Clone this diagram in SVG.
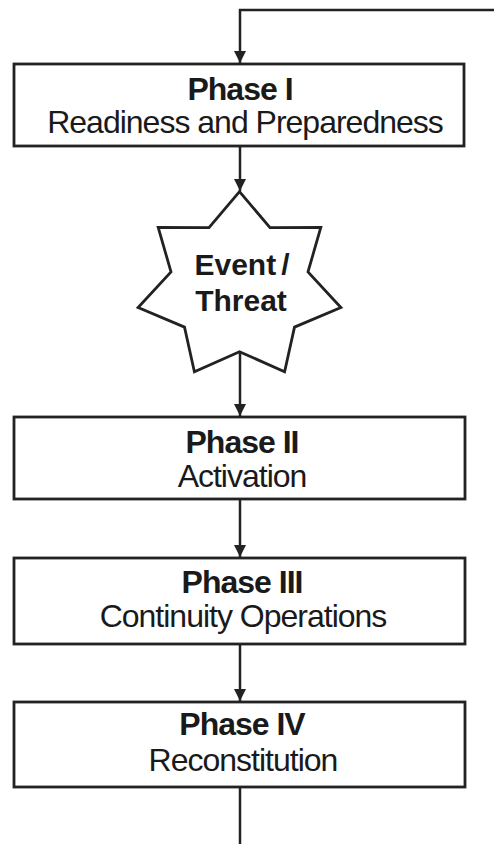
<svg xmlns="http://www.w3.org/2000/svg" width="494" height="844" viewBox="0 0 494 844">
  <style>
    .box { fill: #ffffff; stroke: #222222; stroke-width: 2.8; }
    .conn { fill: none; stroke: #222222; stroke-width: 2.5; }
    .title { font-family: "Liberation Sans", Arial, sans-serif; font-size: 32px; font-weight: bold; fill: #1a1a1a; text-anchor: middle; letter-spacing: -1px; }
    .sub { font-family: "Liberation Sans", Arial, sans-serif; font-size: 32px; fill: #1a1a1a; text-anchor: middle; letter-spacing: -1px; }
    .star { font-family: "Liberation Sans", Arial, sans-serif; font-size: 30px; font-weight: bold; fill: #1a1a1a; text-anchor: middle; }
  </style>
  <defs>
    <marker id="arrow" viewBox="0 0 12 12" refX="12" refY="6" markerWidth="12" markerHeight="12" markerUnits="userSpaceOnUse" orient="auto">
      <path d="M0,0 L12,6 L0,12 z" fill="#222222"/>
    </marker>
  </defs>
  <rect width="494" height="844" fill="#ffffff"/>

  <g id="connectors">
    <polyline class="conn" points="496,10 240,10 240,63" marker-end="url(#arrow)"/>
    <line class="conn" x1="240" y1="146" x2="240" y2="191" marker-end="url(#arrow)"/>
    <line class="conn" x1="240" y1="352" x2="240" y2="416" marker-end="url(#arrow)"/>
    <line class="conn" x1="240" y1="499" x2="240" y2="557" marker-end="url(#arrow)"/>
    <line class="conn" x1="240" y1="644" x2="240" y2="701" marker-end="url(#arrow)"/>
    <line class="conn" x1="240" y1="787" x2="240" y2="846"/>
  </g>

  <g id="phase1">
    <rect class="box" x="14" y="64" width="450" height="82"/>
    <text class="title" x="240" y="100">Phase I</text>
    <text class="sub" x="245" y="133">Readiness and Preparedness</text>
  </g>

  <g id="event">
    <polygon class="box" points="239.5,191.7 270,227.6 320.8,227.4 308,271.9 340.9,307.5 294.5,327.1 284.6,371.7 239.5,351.7 194.4,371.7 184.5,327.1 138.1,307.5 171,271.9 158.2,227.4 209,227.6"/>
    <text class="star" x="242" y="275">Event<tspan dx="5">/</tspan></text>
    <text class="star" x="241" y="311">Threat</text>
  </g>

  <g id="phase2">
    <rect class="box" x="14" y="417" width="451" height="82"/>
    <text class="title" x="242" y="453">Phase II</text>
    <text class="sub" x="242" y="487">Activation</text>
  </g>

  <g id="phase3">
    <rect class="box" x="14" y="558" width="451" height="86"/>
    <text class="title" x="242" y="593">Phase III</text>
    <text class="sub" x="243" y="627">Continuity Operations</text>
  </g>

  <g id="phase4">
    <rect class="box" x="14" y="702" width="451" height="85"/>
    <text class="title" x="242" y="735">Phase IV</text>
    <text class="sub" x="243" y="771">Reconstitution</text>
  </g>
</svg>
